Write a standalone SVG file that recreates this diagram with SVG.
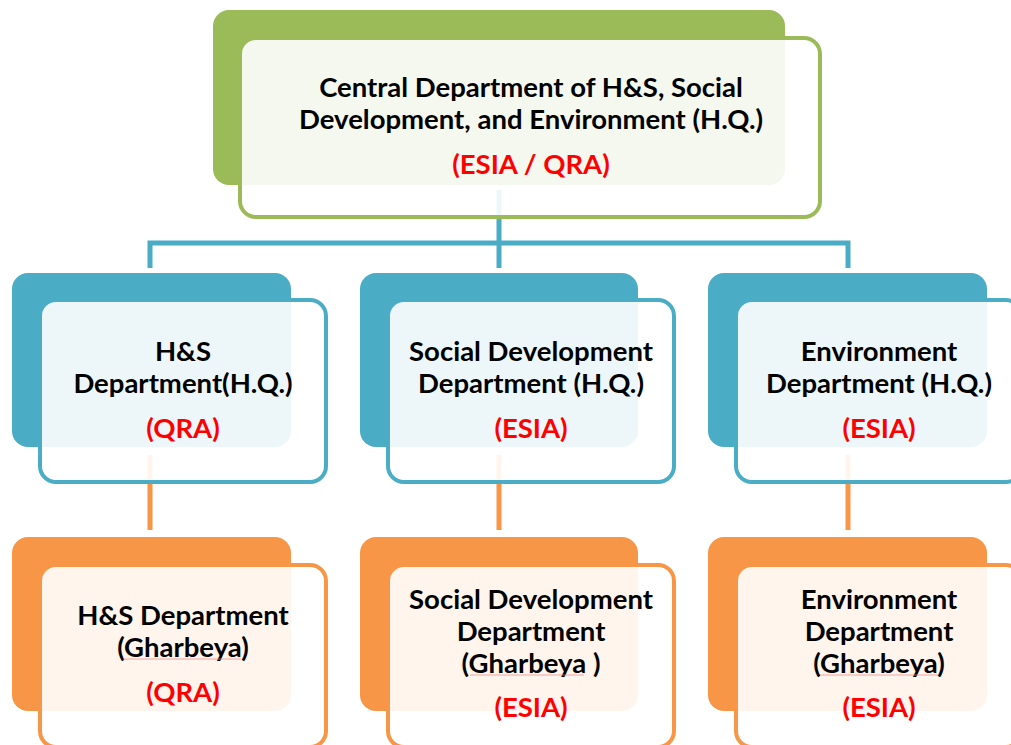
<svg xmlns="http://www.w3.org/2000/svg" width="1011" height="745" viewBox="0 0 1011 745">
<style>
.t{font-family:Lato,"Open Sans","Liberation Sans",sans-serif;font-weight:bold;font-size:27.5px;text-anchor:middle;fill:#000}
.r{fill:#ff0000}
.front{fill:#ffffff;fill-opacity:0.9;stroke-width:4}
.g .back{fill:#9bbb59}.g .front{stroke:#9bbb59}
.b .back{fill:#4bacc6}.b .front{stroke:#4bacc6}
.o .back{fill:#f79646}.o .front{stroke:#f79646}
.sq{stroke:#f08080;stroke-width:1;fill:none;opacity:0.7}
</style>
<rect width="1011" height="745" fill="#ffffff"/>
<g id="connectors" fill="none" stroke-width="5">
<path d="M499 190 V243 M150 268 V243 H848 V268 M499 243 V268" stroke="#4bacc6"/>
<path d="M150 455 V530 M499 455 V530 M848 455 V530" stroke="#f79646"/>
</g>
<g id="central" class="g">
<rect class="back" x="213" y="10" width="572" height="175" rx="16"/>
<rect class="front" x="240" y="38" width="580" height="179" rx="16"/>
<text class="t" x="531" y="97">Central Department of H&amp;S, Social</text>
<text class="t" x="531" y="129">Development, and Environment (H.Q.)</text>
<text class="t r" x="531" y="174">(ESIA / QRA)</text>
</g>
<g id="hs-hq" class="b">
<rect class="back" x="12" y="273" width="279" height="174" rx="16"/>
<rect class="front" x="40" y="300" width="286" height="182" rx="16"/>
<text class="t" x="183" y="361">H&amp;S</text>
<text class="t" x="183" y="393">Department(H.Q.)</text>
<text class="t r" x="183" y="438">(QRA)</text>
</g>
<g id="social-hq" class="b">
<rect class="back" x="360" y="273" width="278" height="174" rx="16"/>
<rect class="front" x="388" y="300" width="286" height="182" rx="16"/>
<text class="t" x="531" y="361">Social Development</text>
<text class="t" x="531" y="393">Department (H.Q.)</text>
<text class="t r" x="531" y="438">(ESIA)</text>
</g>
<g id="env-hq" class="b">
<rect class="back" x="708" y="273" width="279" height="174" rx="16"/>
<rect class="front" x="736" y="300" width="286" height="182" rx="16"/>
<text class="t" x="879" y="361">Environment</text>
<text class="t" x="879" y="393">Department (H.Q.)</text>
<text class="t r" x="879" y="438">(ESIA)</text>
</g>
<g id="hs-gh" class="o">
<rect class="back" x="12" y="537" width="279" height="174" rx="16"/>
<rect class="front" x="40" y="565" width="286" height="182" rx="16"/>
<text class="t" x="183" y="625">H&amp;S Department</text>
<text class="t" x="183" y="657">(Gharbeya)</text>
<path class="sq" d="M123 659 H241"/>
<text class="t r" x="183" y="702">(QRA)</text>
</g>
<g id="social-gh" class="o">
<rect class="back" x="360" y="537" width="278" height="174" rx="16"/>
<rect class="front" x="388" y="565" width="286" height="182" rx="16"/>
<text class="t" x="531" y="609">Social Development</text>
<text class="t" x="531" y="641">Department</text>
<text class="t" x="531" y="673">(Gharbeya )</text>
<path class="sq" d="M470 675 H584"/>
<text class="t r" x="531" y="717">(ESIA)</text>
</g>
<g id="env-gh" class="o">
<rect class="back" x="708" y="537" width="279" height="174" rx="16"/>
<rect class="front" x="736" y="565" width="286" height="182" rx="16"/>
<text class="t" x="879" y="609">Environment</text>
<text class="t" x="879" y="641">Department</text>
<text class="t" x="879" y="673">(Gharbeya)</text>
<path class="sq" d="M820 675 H938"/>
<text class="t r" x="879" y="717">(ESIA)</text>
</g>
</svg>
